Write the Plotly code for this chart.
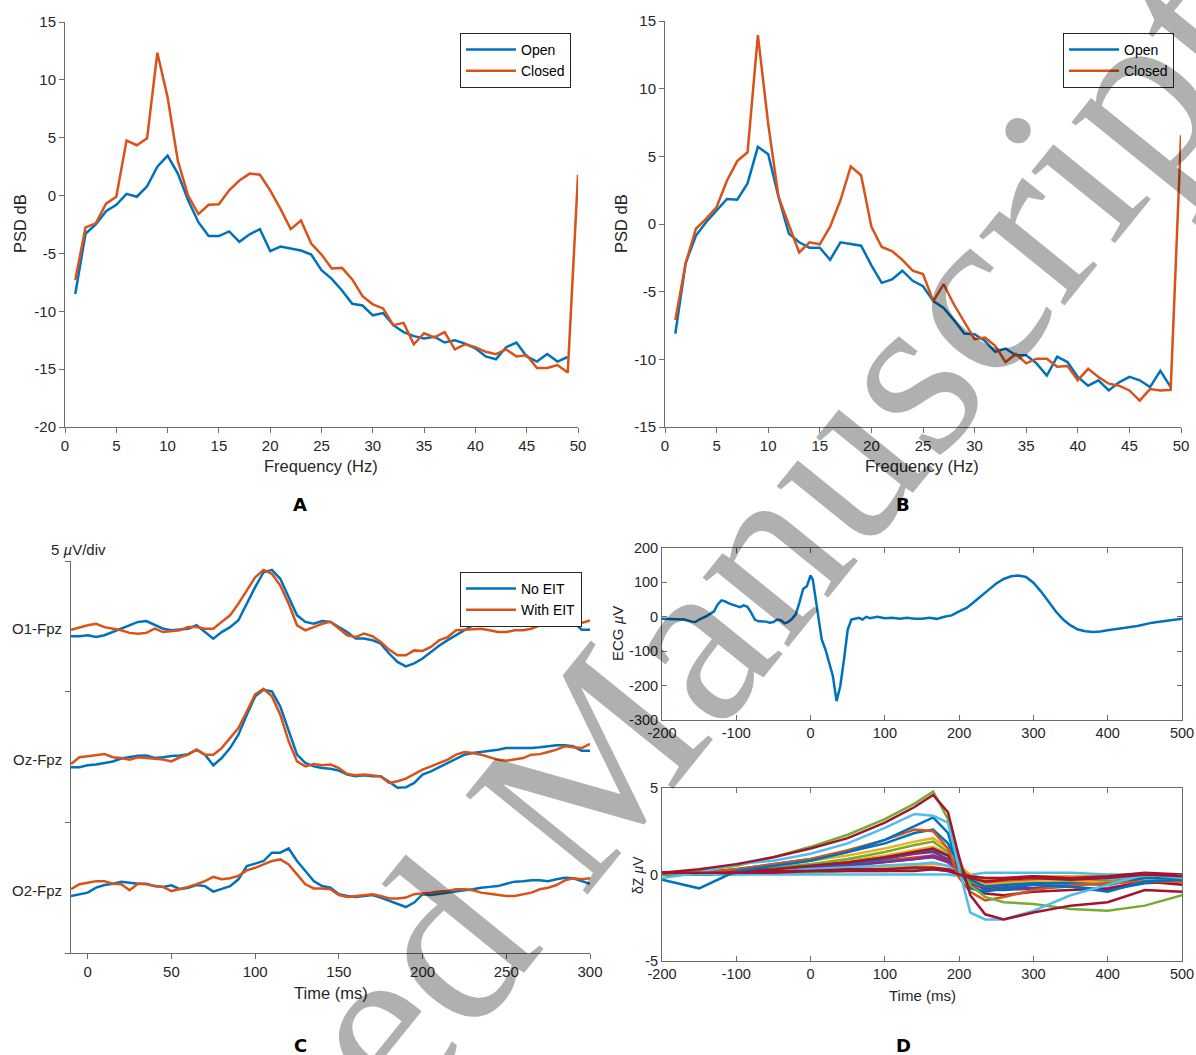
import plotly.graph_objects as go

W, H = 1196, 1055

# ---------------- Data ----------------
# Panel A / B : PSD (dB) vs frequency (Hz)
freq_open = list(range(1, 50))
freq_closed = list(range(1, 51))
psdA_open = [-8.5, -3.3, -2.5, -1.35, -0.8, 0.15, -0.1, 0.8, 2.5, 3.45, 1.9, -0.4, -2.3, -3.5, -3.5,
             -3.1, -4.0, -3.35, -2.9, -4.8, -4.4, -4.6, -4.75, -5.1, -6.45, -7.2, -8.2, -9.35, -9.5,
             -10.35, -10.15, -11.2, -11.8, -12.15, -12.35, -12.2, -12.7, -12.5, -12.8, -13.2, -13.9,
             -14.15, -13.1, -12.7, -13.9, -14.35, -13.7, -14.35, -13.95]
psdA_closed = [-7.3, -2.75, -2.4, -0.7, -0.1, 4.75, 4.35, 4.95, 12.35, 8.5, 3.0, 0.0, -1.6, -0.8, -0.75,
               0.45, 1.3, 1.9, 1.8, 0.45, -1.15, -2.9, -2.15, -4.15, -5.1, -6.3, -6.25, -7.25, -8.7,
               -9.4, -9.75, -11.2, -11.0, -12.85, -11.9, -12.25, -11.8, -13.3, -12.85, -13.1, -13.5,
               -13.7, -13.3, -13.9, -13.8, -14.9, -14.9, -14.65, -15.3, 1.8]
psdB_open = [-8.1, -2.9, -0.85, 0.15, 1.0, 1.85, 1.8, 3.0, 5.7, 5.15, 2.0, -0.7, -1.35, -1.75, -1.75,
             -2.65, -1.35, -1.5, -1.6, -3.05, -4.35, -4.1, -3.45, -4.2, -4.6, -5.7, -6.2, -7.1, -8.1,
             -8.15, -8.65, -9.45, -9.2, -9.7, -9.7, -10.3, -11.2, -9.8, -10.2, -11.3, -11.95, -11.55,
             -12.3, -11.7, -11.3, -11.55, -12.05, -10.85, -12.05]
psdB_closed = [-7.1, -2.9, -0.35, 0.4, 1.25, 3.2, 4.65, 5.3, 13.95, 7.4, 2.0, 0.0, -2.1, -1.35, -1.5,
               -0.2, 1.75, 4.25, 3.6, -0.2, -1.7, -2.0, -2.65, -3.45, -3.7, -5.7, -4.45, -5.95, -7.2,
               -8.5, -8.4, -9.0, -10.2, -9.6, -10.3, -9.95, -9.95, -10.55, -10.5, -11.55, -10.7, -11.3,
               -11.8, -11.95, -12.3, -13.05, -12.2, -12.3, -12.25, 6.55]

# Panel C : VEP (uV) per channel, No EIT / With EIT
vep_time = list(range(-10, 305, 5))
channels = ["O1-Fpz", "Oz-Fpz", "O2-Fpz"]
channel_offsets = [12.5, 7.5, 2.5]   # 5 uV/div stacking
vep_no_eit = [
    [-0.38, -0.38, -0.34, -0.41, -0.34, -0.22, -0.09, 0.04, 0.17, 0.20, 0.04, -0.09, -0.15, -0.13, -0.09,
     0.04, -0.22, -0.47, -0.22, -0.03, 0.23, 0.87, 1.50, 2.07, 2.16, 1.82, 1.12, 0.42, 0.17, 0.10, 0.20,
     0.17, -0.03, -0.22, -0.47, -0.47, -0.53, -0.66, -1.04, -1.36, -1.53, -1.42, -1.23, -0.98, -0.73,
     -0.53, -0.34, -0.15, 0.04, 0.17, 0.17, 0.20, 0.25, 0.29, 0.29, 0.25, 0.25, 0.29, 0.29, 0.25, 0.17,
     -0.13, -0.13],
    [-0.39, -0.39, -0.32, -0.29, -0.23, -0.17, -0.06, -0.01, 0.05, 0.06, -0.04, -0.01, 0.04, 0.06, 0.11,
     0.28, 0.09, -0.32, -0.04, 0.34, 0.85, 1.62, 2.32, 2.57, 2.51, 1.93, 0.98, 0.09, -0.23, -0.36, -0.42,
     -0.45, -0.52, -0.67, -0.74, -0.70, -0.74, -0.74, -0.95, -1.18, -1.16, -0.99, -0.67, -0.55, -0.39,
     -0.23, -0.04, 0.09, 0.15, 0.19, 0.24, 0.28, 0.34, 0.34, 0.34, 0.34, 0.37, 0.41, 0.45, 0.45, 0.41,
     0.24, 0.24],
    [-0.32, -0.25, -0.19, 0.00, 0.10, 0.15, 0.23, 0.19, 0.15, 0.15, 0.06, 0.03, 0.09, -0.06, 0.00,
     0.10, 0.06, -0.15, -0.06, 0.06, 0.32, 0.83, 0.92, 1.02, 1.34, 1.34, 1.50, 1.02, 0.64, 0.25, 0.06,
     0.00, -0.25, -0.32, -0.36, -0.32, -0.28, -0.38, -0.51, -0.64, -0.74, -0.57, -0.25, -0.28, -0.23,
     -0.19, -0.13, -0.10, -0.06, 0.00, 0.03, 0.06, 0.15, 0.23, 0.25, 0.28, 0.28, 0.25, 0.32, 0.38, 0.36,
     0.25, 0.15],
]
vep_with_eit = [
    [-0.13, -0.03, 0.04, 0.10, -0.03, -0.09, -0.15, -0.25, -0.28, -0.25, -0.09, -0.22, -0.18, -0.15, -0.03,
     -0.03, -0.09, -0.09, 0.17, 0.42, 0.87, 1.37, 1.88, 2.16, 2.01, 1.56, 0.87, 0.04, -0.15, -0.03, 0.10,
     0.17, -0.09, -0.34, -0.41, -0.28, -0.38, -0.60, -0.89, -1.11, -1.11, -0.92, -0.94, -0.79, -0.53,
     -0.41, -0.15, -0.13, -0.09, -0.09, -0.15, -0.22, -0.22, -0.15, -0.15, -0.09, 0.04, 0.04, 0.04, 0.13,
     0.04, 0.13, 0.23],
    [-0.27, -0.01, 0.03, 0.06, 0.11, -0.01, -0.04, -0.10, -0.01, -0.04, -0.06, -0.10, -0.17, -0.01, 0.09,
     0.28, 0.09, 0.09, 0.34, 0.73, 1.11, 1.74, 2.40, 2.61, 2.32, 1.62, 0.60, -0.17, -0.36, -0.27, -0.32,
     -0.29, -0.42, -0.65, -0.70, -0.67, -0.70, -0.74, -0.99, -0.93, -0.83, -0.67, -0.48, -0.36, -0.23,
     -0.10, 0.09, 0.19, 0.15, 0.09, -0.01, -0.10, -0.14, -0.10, -0.04, 0.09, 0.11, 0.19, 0.28, 0.41, 0.37,
     0.34, 0.50],
    [-0.06, 0.13, 0.19, 0.25, 0.25, 0.15, 0.13, -0.10, 0.15, 0.13, 0.06, 0.03, -0.13, -0.06, 0.03,
     0.13, 0.25, 0.41, 0.32, 0.36, 0.45, 0.66, 0.76, 0.89, 1.02, 1.08, 0.89, 0.51, 0.13, -0.03, -0.03,
     -0.06, -0.28, -0.36, -0.32, -0.29, -0.25, -0.32, -0.41, -0.41, -0.38, -0.25, -0.23, -0.19, -0.15,
     -0.13, -0.06, -0.06, -0.10, -0.19, -0.23, -0.28, -0.32, -0.32, -0.25, -0.19, -0.06, 0.00, 0.10, 0.28,
     0.36, 0.32, 0.36],
]

# Panel D (top) : ECG (uV)
ecg_time = [-200, -190, -180, -170, -160, -155, -150, -140, -130, -125, -120, -115, -110, -100, -95, -90,
            -85, -80, -75, -70, -60, -55, -50, -45, -40, -35, -30, -25, -20, -15, -10, -5, 0, 3, 5, 10,
            15, 20, 25, 30, 35, 40, 45, 50, 55, 60, 65, 70, 75, 80, 90, 100, 110, 120, 130, 140, 150, 160,
            170, 180, 190, 200, 210, 220, 230, 240, 250, 260, 270, 280, 290, 300, 310, 320, 330, 340, 350,
            360, 370, 380, 390, 400, 420, 440, 460, 480, 500]
ecg_uv = [-6, -6, -6, -8, -14, -15, -8, 2, 16, 36, 48, 45, 39, 31, 28, 33, 29, 12, -8, -13, -14, -17,
          -15, -8, -10, -19, -15, -6, 7, 41, 81, 89, 120, 108, 79, -3, -66, -95, -134, -172, -245, -201,
          -124, -37, -8, -6, -3, -8, 0, -4, 0, -4, -3, -6, -3, -6, -6, -3, -6, 0, 4, 16, 26, 43, 60, 79, 97,
          110, 118, 120, 116, 99, 74, 45, 16, -8, -25, -37, -42, -44, -43, -39, -34, -27, -17, -11, -6]

# Panel D (bottom) : impedance change traces (uV)
dz_time = [-200, -150, -100, -50, 0, 50, 100, 140, 165, 185, 200, 215, 235, 260, 300, 350, 400, 450, 500]
dz_traces = [
    [0.0, 0.0, 0.0, 0.1, 0.1, 0.2, 0.2, 0.3, 0.3, 0.2, 0.0, -0.2, -0.3, -0.3, -0.3, -0.2, -0.2, -0.1, -0.1],
    [0.0, 0.0, 0.0, 0.0, 0.0, 0.0, 0.0, 0.0, 0.0, 0.0, -0.1, 0.0, 0.1, 0.1, 0.1, 0.1, 0.0, 0.0, 0.0],
    [0.0, 0.0, 0.1, 0.1, 0.2, 0.3, 0.4, 0.5, 0.6, 0.5, 0.2, -0.1, -0.2, -0.2, -0.1, -0.1, -0.1, 0.0, -0.1],
    [0.1, 0.0, 0.1, 0.2, 0.3, 0.5, 0.7, 0.9, 1.0, 0.7, 0.2, -0.3, -0.6, -0.5, -0.4, -0.4, -0.3, -0.2, -0.2],
    [0.0, 0.1, 0.2, 0.3, 0.4, 0.6, 0.8, 1.0, 1.1, 0.8, 0.2, -0.3, -0.5, -0.4, -0.3, -0.3, -0.4, -0.2, -0.3],
    [0.0, 0.0, 0.1, 0.2, 0.4, 0.6, 0.9, 1.2, 1.4, 1.1, 0.3, -0.4, -0.9, -0.9, -0.8, -0.7, -0.9, -0.5, -0.4],
    [0.0, 0.0, 0.1, 0.2, 0.3, 0.5, 0.7, 0.9, 1.1, 0.8, 0.3, -0.4, -0.7, -0.8, -0.8, -0.6, -0.5, -0.3, -0.4],
    [0.1, 0.1, 0.2, 0.4, 0.6, 0.8, 1.1, 1.4, 1.6, 1.2, 0.5, 0.0, -0.3, -0.3, -0.2, -0.2, -0.3, -0.3, -0.4],
    [0.0, 0.0, 0.1, 0.2, 0.3, 0.4, 0.5, 0.6, 0.7, 0.5, 0.0, -0.3, -0.6, -0.7, -0.6, -0.5, -0.3, -0.1, 0.0],
    [0.0, 0.1, 0.2, 0.4, 0.5, 0.7, 1.0, 1.2, 1.3, 0.9, 0.2, -0.5, -0.8, -0.7, -0.5, -0.4, -0.4, -0.3, -0.3],
    [0.0, 0.1, 0.2, 0.4, 0.6, 0.9, 1.3, 1.7, 1.9, 1.3, 0.4, -0.4, -0.7, -0.6, -0.5, -0.4, -0.4, -0.3, -0.2],
    [0.0, 0.1, 0.3, 0.5, 0.8, 1.1, 1.5, 1.9, 2.1, 1.5, 0.6, -0.2, -0.6, -0.5, -0.4, -0.3, -0.5, -0.3, -0.5],
    [0.0, 0.1, 0.2, 0.3, 0.5, 0.7, 1.0, 1.3, 1.5, 1.1, 0.3, -0.6, -1.1, -1.2, -1.0, -0.9, -0.8, -0.4, -0.6],
    [0.0, 0.1, 0.3, 0.6, 0.9, 1.3, 1.8, 2.4, 2.6, 1.8, 0.5, -0.3, -0.7, -0.6, -0.5, -0.5, -0.6, -0.2, -0.2],
    [0.1, 0.2, 0.2, 0.2, 0.2, 0.3, 0.3, 0.4, 0.4, 0.3, 0.1, -0.1, -0.2, -0.2, -0.1, -0.2, -0.1, 0.1, 0.0],
    [0.0, 0.1, 0.3, 0.6, 0.9, 1.4, 2.0, 2.6, 2.5, 1.5, -0.2, -1.0, -1.5, -1.3, -0.9, -0.6, -0.5, -0.4, -0.4],
    [-0.3, -0.8, 0.2, 0.5, 0.8, 1.3, 2.0, 2.8, 3.3, 2.4, 0.2, -0.8, -1.0, -0.8, -0.6, -0.7, -1.0, -0.4, -0.3],
    [0.0, 0.2, 0.5, 1.0, 1.6, 2.3, 3.2, 4.1, 4.8, 3.2, 0.6, -0.6, -1.3, -1.6, -1.7, -2.0, -2.1, -1.8, -1.2],
    [-0.2, 0.1, 0.6, 0.8, 1.2, 1.8, 2.7, 3.5, 3.4, 3.0, 0.3, -2.2, -2.6, -2.6, -2.1, -1.2, -0.6, 0.0, -0.2],
    [0.1, 0.1, 0.1, 0.1, 0.2, 0.2, 0.2, 0.2, 0.3, 0.2, 0.0, -0.2, -0.4, -0.3, -0.2, -0.3, -0.2, 0.0, -0.1],
    [0.1, 0.3, 0.6, 1.0, 1.5, 2.1, 3.0, 3.9, 4.6, 3.6, 1.0, -1.2, -2.3, -2.6, -2.2, -1.8, -1.6, -0.9, -1.0],
]
dz_colors = ["#77AC30", "#4DBEEE", "#EDB120", "#7E2F8E", "#D95319", "#0072BD", "#7E2F8E",
             "#EDB120", "#4DBEEE", "#7E2F8E", "#77AC30", "#EDB120", "#A2142F", "#0072BD",
             "#A2142F", "#D95319", "#0072BD", "#77AC30", "#4DBEEE", "#A2142F", "#A2142F"]

# tick values (labels printed with a plain hyphen minus, as in the original)
psdA_ticks = [-20, -15, -10, -5, 0, 5, 10, 15]
psdB_ticks = [-15, -10, -5, 0, 5, 10, 15]
freq_ticks = [0, 5, 10, 15, 20, 25, 30, 35, 40, 45, 50]
vep_ticks = [0, 50, 100, 150, 200, 250, 300]
ecg_ticks = [-300, -200, -100, 0, 100, 200]
time_ticks = [-200, -100, 0, 100, 200, 300, 400, 500]
dz_ticks = [-5, 0, 5]

BLUE, ORANGE = "#0072BD", "#D95319"
TXT = "#262626"
AX = "#6b6b6b"
FONT = "Liberation Sans, Arial, sans-serif"
TICK_SIZE = 15
TITLE_SIZE = 16.5


def px(x):
    return x / W


def py(y):
    return 1 - y / H


def lab(vals):
    return [str(v) for v in vals]


fig = go.Figure()

# Panel A
fig.add_trace(go.Scatter(x=freq_open, y=psdA_open, mode="lines", name="Open",
                         line=dict(color=BLUE, width=2.5), xaxis="x", yaxis="y", legend="legend"))
fig.add_trace(go.Scatter(x=freq_closed, y=psdA_closed, mode="lines", name="Closed",
                         line=dict(color=ORANGE, width=2.5), xaxis="x", yaxis="y", legend="legend"))
# Panel B
fig.add_trace(go.Scatter(x=freq_open, y=psdB_open, mode="lines", name="Open",
                         line=dict(color=BLUE, width=2.5), xaxis="x2", yaxis="y2", legend="legend2"))
fig.add_trace(go.Scatter(x=freq_closed, y=psdB_closed, mode="lines", name="Closed",
                         line=dict(color=ORANGE, width=2.5), xaxis="x2", yaxis="y2", legend="legend2"))
# Panel C
for i, off in enumerate(channel_offsets):
    fig.add_trace(go.Scatter(x=vep_time, y=[v + off for v in vep_no_eit[i]], mode="lines",
                             name="No EIT", showlegend=(i == 0), legendgroup="no",
                             line=dict(color=BLUE, width=2.5), xaxis="x3", yaxis="y3", legend="legend3"))
    fig.add_trace(go.Scatter(x=vep_time, y=[v + off for v in vep_with_eit[i]], mode="lines",
                             name="With EIT", showlegend=(i == 0), legendgroup="with",
                             line=dict(color=ORANGE, width=2.5), xaxis="x3", yaxis="y3", legend="legend3"))
# Panel D top
fig.add_trace(go.Scatter(x=ecg_time, y=ecg_uv, mode="lines", showlegend=False,
                         line=dict(color=BLUE, width=2.5), xaxis="x4", yaxis="y4"))
# Panel D bottom
for tr, c in zip(dz_traces, dz_colors):
    fig.add_trace(go.Scatter(x=dz_time, y=tr, mode="lines", showlegend=False,
                             line=dict(color=c, width=2.5), xaxis="x5", yaxis="y5"))

tickfont = dict(family=FONT, size=TICK_SIZE, color=TXT)
tickfont_d = dict(family=FONT, size=14.5, color=TXT)
base_open = dict(showline=True, linecolor=AX, linewidth=1, ticks="outside", ticklen=5, tickcolor=AX,
                 showgrid=False, zeroline=False, tickfont=tickfont, mirror=False, automargin=False,
                 ticklabeloverflow="allow")
base_box = dict(showline=True, linecolor=AX, linewidth=1, ticks="inside", ticklen=5, tickcolor=AX,
                showgrid=False, zeroline=False, tickfont=tickfont_d, mirror="ticks", automargin=False,
                ticklabeloverflow="allow")

fig.update_layout(
    xaxis=dict(base_open, domain=[px(65), px(578)], range=[0, 50], tickvals=freq_ticks,
               ticktext=lab(freq_ticks), anchor="y"),
    yaxis=dict(base_open, domain=[py(427), py(22)], range=[-20, 15], tickvals=psdA_ticks,
               ticktext=lab(psdA_ticks), anchor="x"),
    xaxis2=dict(base_open, domain=[px(665), px(1181)], range=[0, 50], tickvals=freq_ticks,
                ticktext=lab(freq_ticks), anchor="y2"),
    yaxis2=dict(base_open, domain=[py(427), py(21)], range=[-15, 15], tickvals=psdB_ticks,
                ticktext=lab(psdB_ticks), anchor="x2"),
    xaxis3=dict(base_open, domain=[px(71), px(590)], range=[-10, 300], tickvals=vep_ticks,
                ticktext=lab(vep_ticks), anchor="y3"),
    yaxis3=dict(base_open, domain=[py(953), py(561)], range=[0, 15], tickvals=[0, 5, 10, 15],
                ticktext=["", "", "", ""], anchor="x3"),
    xaxis4=dict(base_box, domain=[px(662), px(1182)], range=[-200, 500], tickvals=time_ticks,
                ticktext=lab(time_ticks), anchor="y4"),
    yaxis4=dict(base_box, domain=[py(720), py(548)], range=[-300, 200], tickvals=ecg_ticks,
                ticktext=lab(ecg_ticks), anchor="x4"),
    xaxis5=dict(base_box, domain=[px(662), px(1182)], range=[-200, 500], tickvals=time_ticks,
                ticktext=lab(time_ticks), anchor="y5"),
    yaxis5=dict(base_box, domain=[py(961), py(788)], range=[-5, 5], tickvals=dz_ticks,
                ticktext=lab(dz_ticks), anchor="x5"),
)

legend_common = dict(bgcolor="white", bordercolor=TXT, borderwidth=1, xanchor="left", yanchor="top",
                     font=dict(family=FONT, size=14, color="black"), itemwidth=50,
                     tracegroupgap=0, itemclick=False, itemdoubleclick=False)
fig.update_layout(
    legend=dict(legend_common, x=px(460), y=py(33)),
    legend2=dict(legend_common, x=px(1063), y=py(33)),
    legend3=dict(legend_common, x=px(460), y=py(572)),
)

ann = []


def text(x, y, t, size=TITLE_SIZE, angle=0, bold=False, family=FONT, xanchor="center", color=TXT):
    ann.append(dict(x=px(x), y=py(y), xref="paper", yref="paper", text=("<b>%s</b>" % t) if bold else t,
                    showarrow=False, textangle=angle, xanchor=xanchor, yanchor="middle",
                    font=dict(family=family, size=size, color=color)))


text(321, 466, "Frequency (Hz)")
text(20, 224, "PSD dB", angle=-90)
text(922, 466, "Frequency (Hz)")
text(621, 224, "PSD dB", angle=-90)
text(331, 993, "Time (ms)")
text(617, 634, "ECG <i>µ</i>V", size=15, angle=-90)
text(638, 875, "δZ <i>µ</i>V", size=14, angle=-90)
text(922, 995, "Time (ms)", size=15)
text(78, 549, "5 <i>µ</i>V/div", size=15)
for name, yy in zip(channels, [628, 759, 890]):
    text(64, yy, name, size=15, xanchor="right")
for letter, xx, yy in [("A", 300, 505), ("B", 903, 505), ("C", 300, 1045), ("D", 903, 1045)]:
    text(xx, yy, letter, size=18, bold=True, family="DejaVu Sans, Verdana, sans-serif", color="black")

# watermark
ann.append(dict(x=px(560), y=py(800), xref="paper", yref="paper", text="Accepted Manuscript",
                showarrow=False, textangle=-51, xanchor="center", yanchor="middle",
                font=dict(family="Liberation Serif, Times New Roman, serif", size=240,
                          color="rgba(0,0,0,0.31)")))

fig.update_layout(annotations=ann, width=W, height=H, margin=dict(l=0, r=0, t=0, b=0),
                  paper_bgcolor="white", plot_bgcolor="white", showlegend=True)

fig.write_html("out.html", config={"displayModeBar": False},
               post_script="document.body.style.margin='0';document.body.style.overflow='hidden';")
